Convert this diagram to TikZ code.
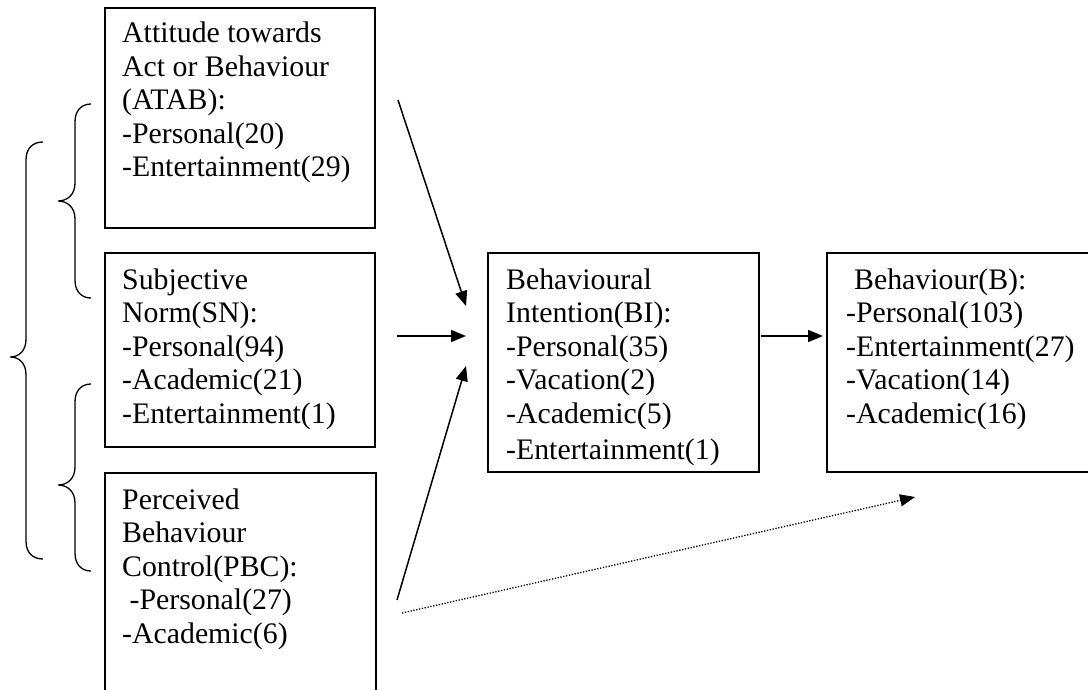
\documentclass[tikz,border=0pt]{standalone}
\usepackage{fontspec}
\setmainfont{Liberation Serif}
\usetikzlibrary{arrows.meta}
% curly bracket: end x, stem x, tip x, top y, tip y, bottom y
\newcommand\curlybrace[6]{%
  \draw[curly] (#1,#4) .. controls (#2+7,#4) and (#2,#4+6) .. (#2,#4+18)
    -- (#2,#5-18) .. controls (#2,#5-6) and (#3+9,#5) .. (#3,#5)
    .. controls (#3+9,#5) and (#2,#5+6) .. (#2,#5+18)
    -- (#2,#6-18) .. controls (#2,#6-6) and (#2+7,#6) .. (#1,#6);}
\begin{document}
\begin{tikzpicture}[x=1pt,y=-1pt,
  box/.style={draw=black, line width=1.6pt, anchor=north west, inner sep=0pt},
  txt/.style={anchor=base west, inner sep=0pt, font=\fontsize{29.8}{33.5}\selectfont},
  link/.style={line width=1.5pt, -{Triangle[length=15pt,width=12pt]}},
  weak/.style={line width=1.3pt, dash pattern=on 1.3pt off 1.6pt, -{Triangle[length=15pt,width=12pt]}},
  curly/.style={line width=1.3pt}
]
\useasboundingbox (0,0) rectangle (1088,690);
\clip (0,0) rectangle (1088,690);

% boxes
\node[box, minimum width=270pt, minimum height=220pt] (atab) at (104,7) {};
\node[box, minimum width=270pt, minimum height=194pt] (sn) at (104,252) {};
\node[box, minimum width=271pt, minimum height=260pt] (pbc) at (104,472) {};
\node[box, minimum width=271pt, minimum height=219pt] (bi) at (487,252) {};
\node[box, minimum width=300pt, minimum height=219pt] (b) at (826,252) {};

% box texts
\node[txt] (atab1) at (122,43) {Attitude towards};
\node[txt] (atab2) at (122,76.5) {Act or Behaviour};
\node[txt] (atab3) at (122,110) {(ATAB):};
\node[txt] (atab4) at (122,143.5) {-Personal(20)};
\node[txt] (atab5) at (122,177) {-Entertainment(29)};

\node[txt] (sn1) at (122,289) {Subjective};
\node[txt] (sn2) at (122,322.5) {Norm(SN):};
\node[txt] (sn3) at (122,356) {-Personal(94)};
\node[txt] (sn4) at (122,389.5) {-Academic(21)};
\node[txt] (sn5) at (122,423) {-Entertainment(1)};

\node[txt] (pbc1) at (122,509) {Perceived};
\node[txt] (pbc2) at (122,542.5) {Behaviour};
\node[txt] (pbc3) at (122,576) {Control(PBC):};
\node[txt] (pbc4) at (129.5,609.5) {-Personal(27)};
\node[txt] (pbc5) at (122,643) {-Academic(6)};

% the last line of this box runs past its lower margin and is cut off
\begin{scope}
  \clip (487,252) rectangle (758,465);
  \node[txt] (bi1) at (506,289) {Behavioural};
  \node[txt] (bi2) at (506,322.5) {Intention(BI):};
  \node[txt] (bi3) at (506,356) {-Personal(35)};
  \node[txt] (bi4) at (506,389.5) {-Vacation(2)};
  \node[txt] (bi5) at (506,423) {-Academic(5)};
  \node[txt] (bi6) at (506,459) {-Entertainment(1)};
\end{scope}

\node[txt] (b1) at (854,289) {Behaviour(B):};
\node[txt] (b2) at (846,322.5) {-Personal(103)};
\node[txt] (b3) at (846,356) {-Entertainment(27)};
\node[txt] (b4) at (846,389.5) {-Vacation(14)};
\node[txt] (b5) at (846,423) {-Academic(16)};

% grouping brackets
\curlybrace{91}{75}{58}{104}{201}{298}
\curlybrace{43}{26}{10}{142}{357}{559}
\curlybrace{91}{75}{58}{384}{485}{571}

% arrows
\coordinate (fromA) at (398,100);
\coordinate (toA) at (466,306);
\coordinate (fromS) at (397,336);
\coordinate (toS) at (466,336);
\coordinate (fromP) at (397,600);
\coordinate (toP) at (466,366);
\coordinate (fromD) at (402,613);
\coordinate (toD) at (915,497);
\coordinate (fromBI) at (761,336);

\draw[link] (fromA) -- (toA);
\draw[link] (fromS) -- (toS);
\draw[link] (fromP) -- (toP);
\draw[weak] (fromD) -- (toD);
\draw[link, shorten >=3pt] (fromBI) -- (b.west |- fromBI);
\end{tikzpicture}
\end{document}
